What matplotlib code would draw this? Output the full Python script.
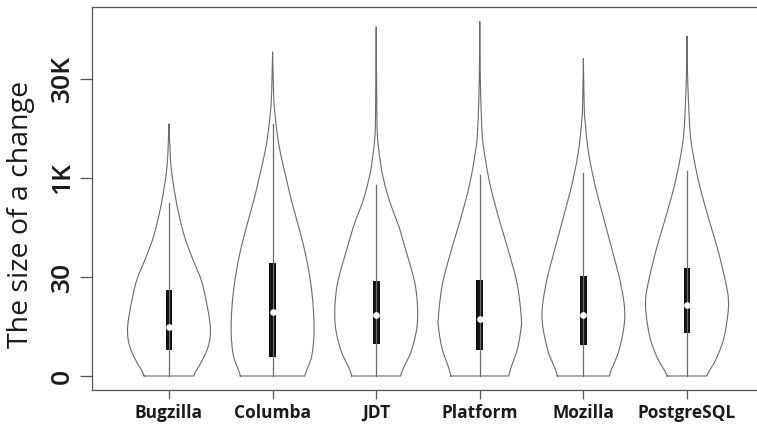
import numpy as np
import matplotlib
matplotlib.use("Agg")
import matplotlib.pyplot as plt

# ---- data (log10 scale of change size) ----
projects = ["Bugzilla", "Columba", "JDT", "Platform", "Mozilla", "PostgreSQL"]

ytick_vals = [0.0, 1.5, 3.0, 4.5]
ytick_labels = ["0", "30", "1K", "30K"]

# box statistics (log10 units)
q1 = [0.39, 0.29, 0.48, 0.40, 0.47, 0.65]
median = [0.74, 0.97, 0.92, 0.87, 0.93, 1.08]
q3 = [1.30, 1.71, 1.44, 1.45, 1.52, 1.63]
whisker_hi = [2.62, 3.82, 2.90, 3.05, 3.08, 3.10]

# violin density profiles (levels in log10 units, relative density)
bugzilla_lv = [0, 0.2, 0.35, 0.5, 0.65, 0.8, 1.1, 1.45, 1.76, 2.1, 2.5, 2.92, 3.23, 3.53, 3.82]
bugzilla_dn = [0.60, 0.77, 0.89, 0.97, 1.0, 0.99, 0.91, 0.78, 0.58, 0.38, 0.22, 0.10, 0.04, 0.017, 0]
columba_lv = [0, 0.29, 0.65, 1.05, 1.45, 1.86, 2.26, 2.67, 3.07, 3.47, 3.83, 4.18, 4.59, 4.91]
columba_dn = [0.78, 0.94, 1.0, 0.98, 0.91, 0.79, 0.63, 0.45, 0.30, 0.16, 0.08, 0.03, 0.012, 0]
jdt_lv = [0, 0.35, 0.65, 0.9, 1.2, 1.5, 2.0, 2.3, 2.67, 3.0, 3.2, 3.63, 4.13, 4.6, 5.29]
jdt_dn = [0.59, 0.83, 0.96, 1.0, 0.98, 0.90, 0.67, 0.53, 0.31, 0.17, 0.11, 0.03, 0.014, 0.007, 0]
platform_lv = [0, 0.39, 0.7, 0.9, 1.4, 1.9, 2.41, 2.92, 3.42, 3.68, 4.18, 4.6, 5.37]
platform_dn = [0.70, 0.90, 0.99, 1.0, 0.90, 0.69, 0.45, 0.24, 0.10, 0.056, 0.024, 0.01, 0]
mozilla_lv = [0, 0.39, 0.9, 1.4, 1.9, 2.41, 2.92, 3.42, 3.92, 4.08, 4.81]
mozilla_dn = [0.63, 0.86, 1.0, 0.90, 0.70, 0.48, 0.27, 0.115, 0.032, 0.02, 0]
postgres_lv = [0, 0.24, 0.55, 0.9, 1.15, 1.4, 1.9, 2.41, 2.92, 3.42, 3.78, 4.48, 5.15]
postgres_dn = [0.48, 0.69, 0.88, 0.98, 1.0, 0.94, 0.75, 0.51, 0.29, 0.13, 0.065, 0.017, 0]

levels = [bugzilla_lv, columba_lv, jdt_lv, platform_lv, mozilla_lv, postgres_lv]
dens = [bugzilla_dn, columba_dn, jdt_dn, platform_dn, mozilla_dn, postgres_dn]


def smooth_curve(xs, ys, n=12):
    """Catmull-Rom rendering of an outline through the given points."""
    xs = np.asarray(xs, float)
    ys = np.asarray(ys, float)
    px = np.concatenate([[2 * xs[0] - xs[1]], xs, [2 * xs[-1] - xs[-2]]])
    py = np.concatenate([[ys[0]], ys, [ys[-1]]])
    ox, oy = [], []
    for i in range(1, len(px) - 2):
        t = np.linspace(0, 1, n, endpoint=False)
        for arr, out in ((px, ox), (py, oy)):
            p0, p1, p2, p3 = arr[i - 1], arr[i], arr[i + 1], arr[i + 2]
            out.extend(0.5 * ((2 * p1) + (-p0 + p2) * t + (2 * p0 - 5 * p1 + 4 * p2 - p3) * t ** 2
                              + (-p0 + 3 * p1 - 3 * p2 + p3) * t ** 3))
    ox.append(xs[-1])
    oy.append(ys[-1])
    oy = np.clip(oy, 0, None)
    return np.array(ox), np.array(oy)


plt.rcParams['font.family'] = ['Open Sans', 'DejaVu Sans']

fig = plt.figure(figsize=(7.57, 4.25), dpi=100)
ax = fig.add_axes([92 / 757, 1 - 390 / 425, 1 - 92 / 757, (390 - 7) / 425])

outline_col = "#6a6a6a"
max_hw = 0.40
box_hw = 0.032

for i, name in enumerate(projects):
    xc = i + 1
    lv, dn = smooth_curve(levels[i], dens[i])
    hw = dn * max_hw
    xs = np.concatenate([xc - hw, (xc + hw)[::-1], [xc - hw[0]]])
    ys = np.concatenate([lv, lv[::-1], [lv[0]]])
    ax.plot(xs, ys, color=outline_col, lw=0.8, solid_joinstyle="round")
    ax.plot([xc, xc], [0, whisker_hi[i]], color=outline_col, lw=0.9)
    ax.fill_between([xc - box_hw, xc + box_hw], q1[i], q3[i], color="#111111", lw=0)
    ax.plot([xc], [median[i]], marker="o", ms=3.8, mfc="white", mec="white", lw=0)

ax.set_xlim(1 - 77 / 103.6, 1 - 77 / 103.6 + 665 / 103.6)
ax.set_ylim(-14 / 66, 369 / 66)

ax.set_xticks(range(1, len(projects) + 1))
ax.set_xticklabels(projects, fontsize=12.5, fontweight="bold", color="#1a1a1a")
ax.set_yticks(ytick_vals)
ax.set_yticklabels(ytick_labels, fontsize=19, fontweight="semibold", rotation=90,
                   va="center", color="#1a1a1a")
ax.tick_params(axis="y", length=8.5, width=0.9, color="#555555", pad=3.5)
ax.tick_params(axis="x", length=6.5, width=0.9, color="#555555", pad=3.5)
ax.set_ylabel("The size of a change", fontsize=20.5, fontweight="medium", color="#1a1a1a")
ax.yaxis.set_label_coords(-0.085, 0.4595)

for side in ["left", "top", "bottom"]:
    ax.spines[side].set_color("#555555")
    ax.spines[side].set_linewidth(0.9)
ax.spines["right"].set_visible(False)

fig.savefig("out.png", dpi=100)
